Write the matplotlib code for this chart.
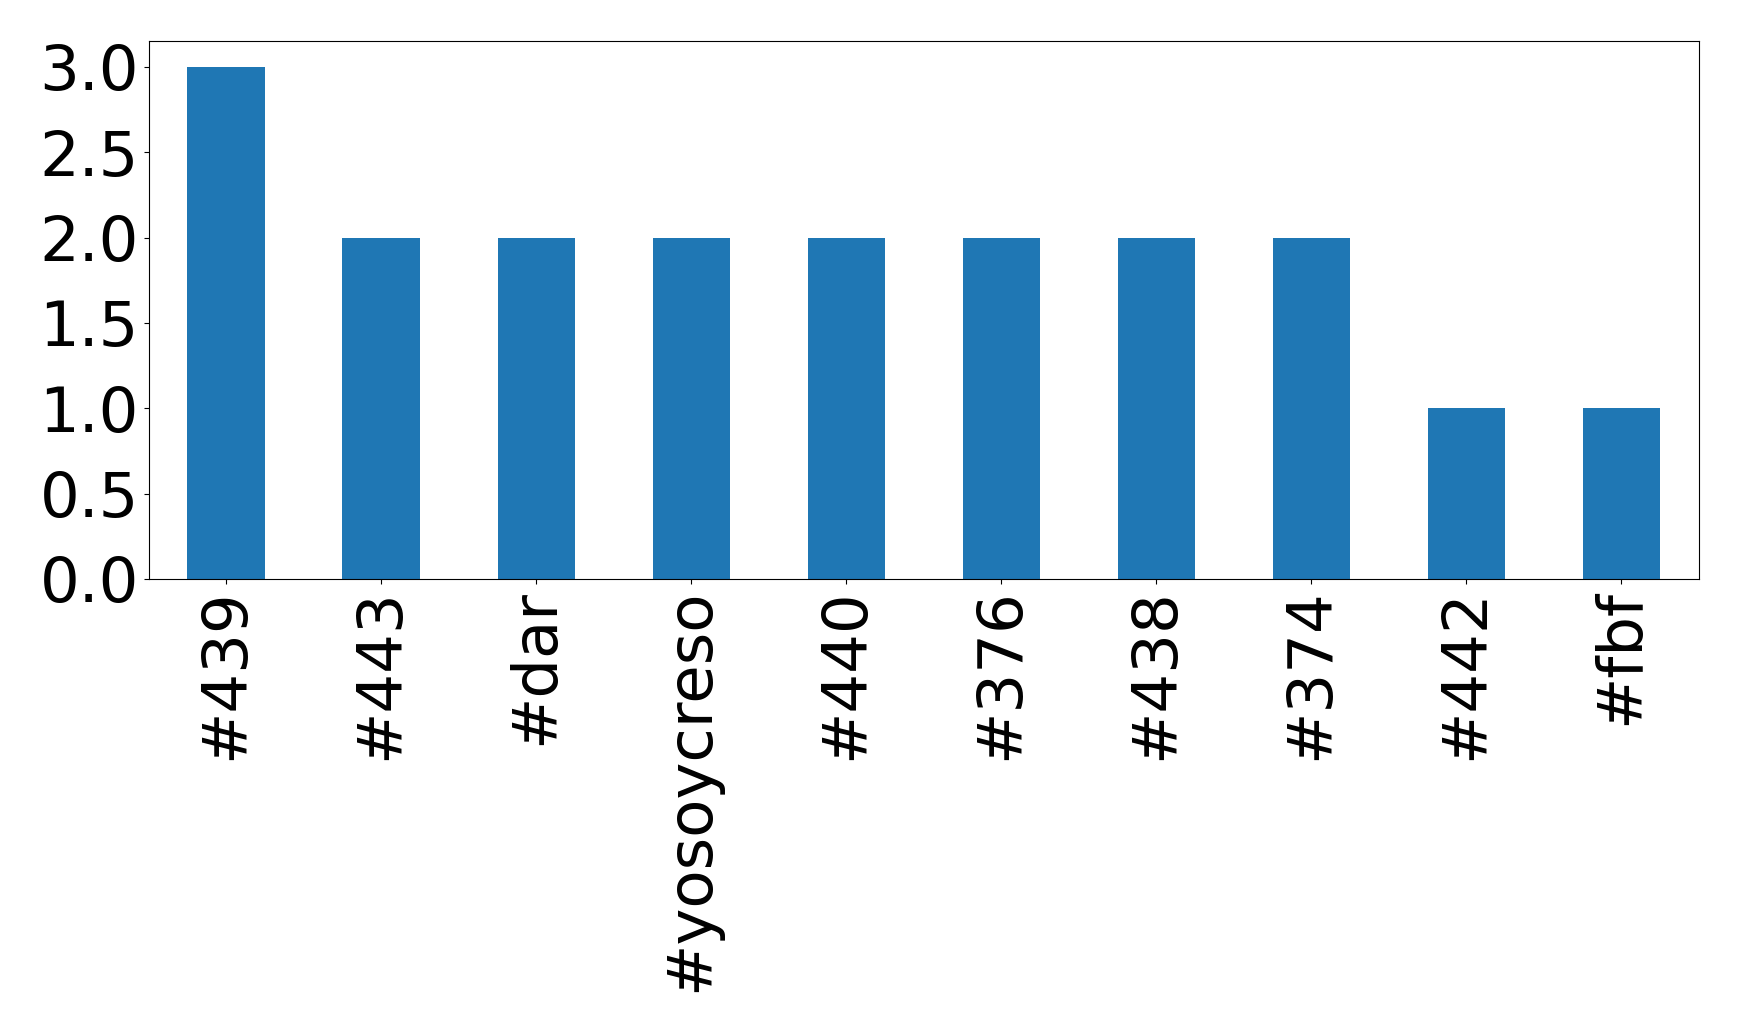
import matplotlib
matplotlib.use('Agg')
import matplotlib.pyplot as plt
import pandas as pd

hashtags = ['#439', '#443', '#dar', '#yosoycreso', '#440', '#376', '#438', '#374', '#442', '#fbf']
counts = [3, 2, 2, 2, 2, 2, 2, 2, 1, 1]

s = pd.Series(counts, index=hashtags)

fig = plt.figure(figsize=(17.39, 10.32), dpi=100)
ax = fig.add_axes([0.0855, 0.439, 0.8915, 0.521])
s.plot(kind='bar', ax=ax, color='#1f77b4')
ax.tick_params(axis='both', labelsize=45)
ax.set_yticks([0.0, 0.5, 1.0, 1.5, 2.0, 2.5, 3.0])

plt.savefig('out.png', dpi=100)
